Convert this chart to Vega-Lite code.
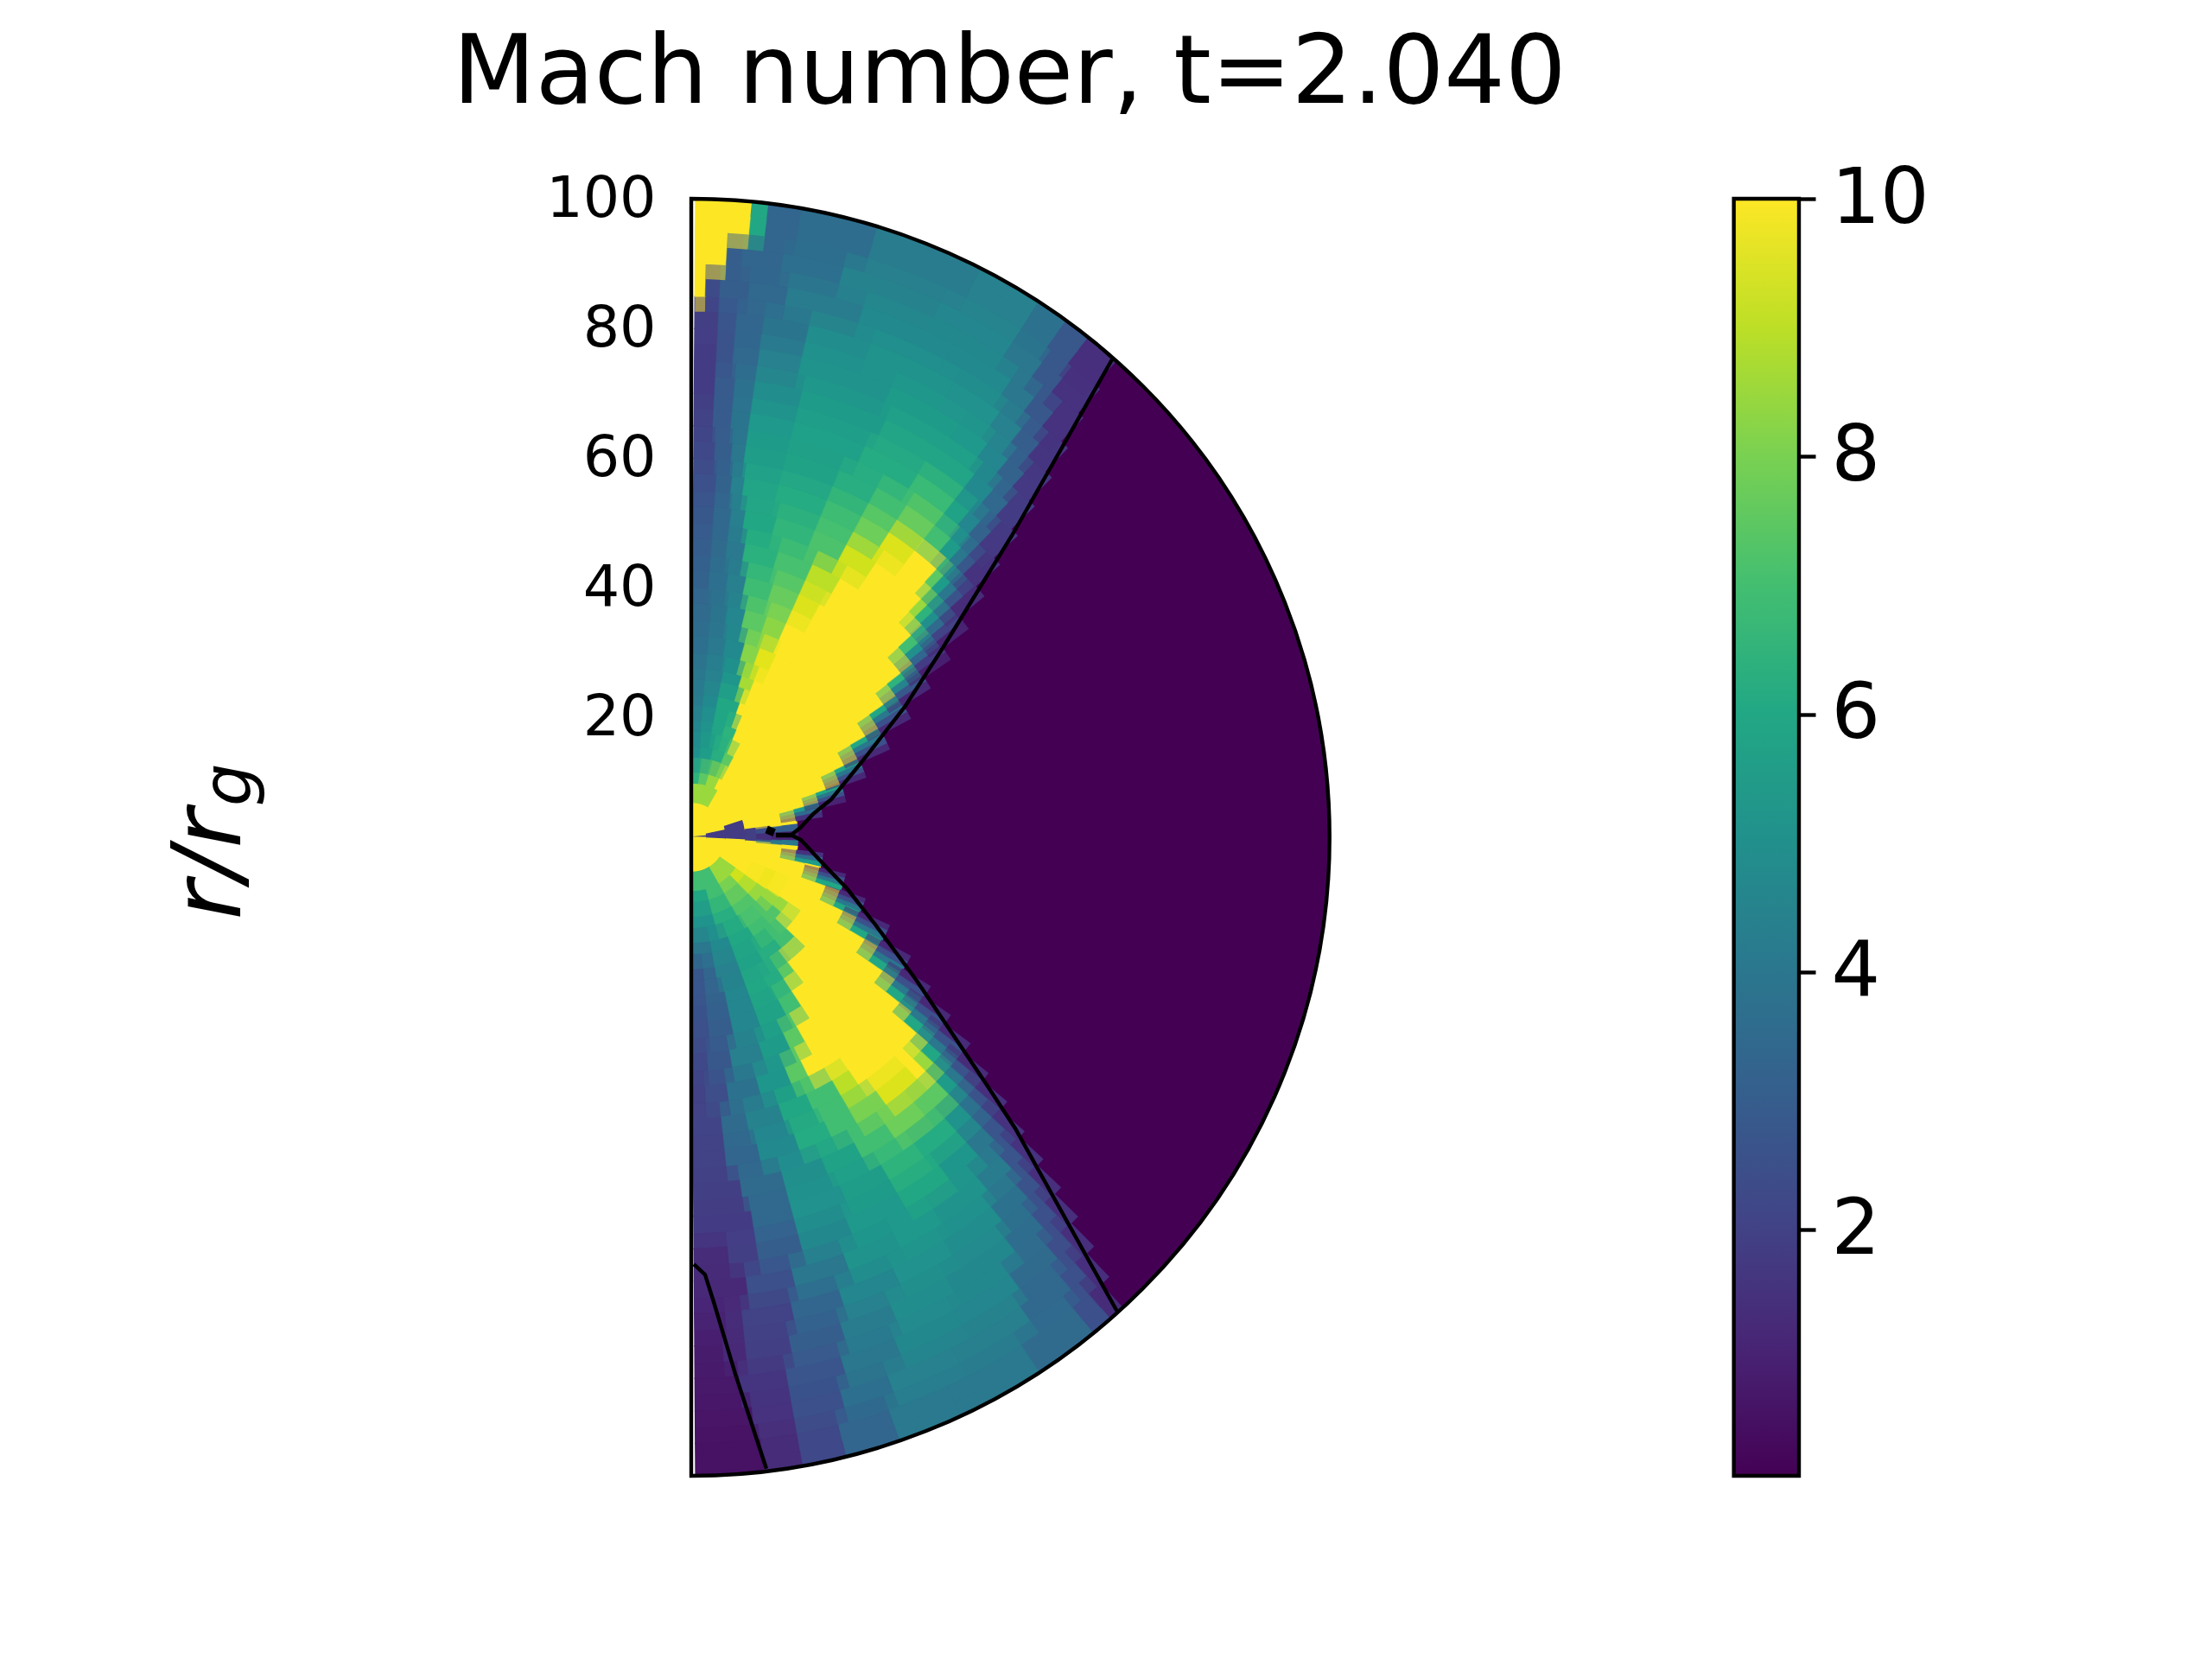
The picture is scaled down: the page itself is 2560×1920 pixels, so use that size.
{"$schema":"https://vega.github.io/schema/vega-lite/v6.json","autosize":"none","background":"white","padding":{"left":800,"top":230,"right":478,"bottom":212},"width":1282,"height":1478,
"title":{"text":"Mach number, t=2.040","font":"DejaVu Sans","fontSize":111,"fontWeight":"normal","color":"black","anchor":"start","frame":"group","dx":-276,"offset":-44,"baseline":"alphabetic"},
"config":{"view":{"stroke":null},"axis":{"grid":false}},
"datasets":{"cells":[
{"t":0.4,"u":85,"r":1.6,"s":4,"m":10},{"t":85,"u":91,"r":1.6,"s":4,"m":1.8},{"t":91,"u":179.6,"r":1.6,"s":4,"m":10},
{"t":0.4,"u":78,"r":4,"s":7,"m":10},{"t":78,"u":93,"r":4,"s":7,"m":1.8},{"t":93,"u":179.6,"r":4,"s":7,"m":10},
{"t":0.4,"u":30,"r":7,"s":10,"m":8.5},{"t":30,"u":72,"r":7,"s":10,"m":10},{"t":72,"u":93,"r":7,"s":10,"m":1.8},{"t":93,"u":125,"r":7,"s":10,"m":10},{"t":125,"u":150,"r":7,"s":10,"m":8.5},{"t":150,"u":179.6,"r":7,"s":10,"m":7},
{"t":0.4,"u":8,"r":10,"s":14,"m":6.5},{"t":8,"u":16,"r":10,"s":14,"m":7.5},{"t":16,"u":26,"r":10,"s":14,"m":8.5},{"t":26,"u":82,"r":10,"s":14,"m":10},{"t":82,"u":94,"r":10,"s":14,"m":1.9},{"t":94,"u":125,"r":10,"s":14,"m":10},{"t":125,"u":135,"r":10,"s":14,"m":9.3},{"t":135,"u":150,"r":10,"s":14,"m":8},{"t":150,"u":165,"r":10,"s":14,"m":7},{"t":165,"u":179.6,"r":10,"s":14,"m":6},
{"t":0.4,"u":6,"r":14,"s":18,"m":5},{"t":6,"u":14,"r":14,"s":18,"m":5.6},{"t":14,"u":22,"r":14,"s":18,"m":6.3},{"t":22,"u":28,"r":14,"s":18,"m":7.5},{"t":28,"u":83,"r":14,"s":18,"m":10},{"t":83,"u":87,"r":14,"s":18,"m":3},{"t":87,"u":92,"r":14,"s":18,"m":1},{"t":92,"u":95,"r":14,"s":18,"m":4},{"t":95,"u":112,"r":14,"s":18,"m":10},{"t":112,"u":125,"r":14,"s":18,"m":9.8},{"t":125,"u":135,"r":14,"s":18,"m":8.5},{"t":135,"u":150,"r":14,"s":18,"m":7.3},{"t":150,"u":165,"r":14,"s":18,"m":6.3},{"t":165,"u":179.6,"r":14,"s":18,"m":5.2},
{"t":0.4,"u":5,"r":18,"s":22,"m":4.6},{"t":5,"u":11,"r":18,"s":22,"m":5.2},{"t":11,"u":17,"r":18,"s":22,"m":5.9},{"t":17,"u":23,"r":18,"s":22,"m":6.5},{"t":23,"u":75,"r":18,"s":22,"m":10},{"t":75,"u":77,"r":18,"s":22,"m":5.5},{"t":77,"u":79,"r":18,"s":22,"m":3.5},{"t":79,"u":81,"r":18,"s":22,"m":1.5},{"t":97,"u":99,"r":18,"s":22,"m":1.5},{"t":99,"u":101,"r":18,"s":22,"m":3.5},{"t":101,"u":103,"r":18,"s":22,"m":5.5},{"t":103,"u":124,"r":18,"s":22,"m":10},{"t":124,"u":130,"r":18,"s":22,"m":8.5},{"t":130,"u":138,"r":18,"s":22,"m":7.3},{"t":138,"u":148,"r":18,"s":22,"m":7},{"t":148,"u":160,"r":18,"s":22,"m":6},{"t":160,"u":170,"r":18,"s":22,"m":4.8},{"t":170,"u":179.6,"r":18,"s":22,"m":4},
{"t":0.4,"u":5,"r":22,"s":26,"m":4.2},{"t":5,"u":11,"r":22,"s":26,"m":4.8},{"t":11,"u":20,"r":22,"s":26,"m":6},{"t":20,"u":70.6,"r":22,"s":26,"m":10},{"t":70.6,"u":72,"r":22,"s":26,"m":6},{"t":72,"u":73.5,"r":22,"s":26,"m":4},{"t":73.5,"u":75,"r":22,"s":26,"m":2.5},{"t":75,"u":77,"r":22,"s":26,"m":1},{"t":103.5,"u":105,"r":22,"s":26,"m":1.2},{"t":105,"u":106.5,"r":22,"s":26,"m":2.5},{"t":106.5,"u":108,"r":22,"s":26,"m":4},{"t":108,"u":110,"r":22,"s":26,"m":6},{"t":110,"u":134,"r":22,"s":26,"m":10},{"t":134,"u":141,"r":22,"s":26,"m":7},{"t":141,"u":150,"r":22,"s":26,"m":6.3},{"t":150,"u":160,"r":22,"s":26,"m":5.8},{"t":160,"u":170,"r":22,"s":26,"m":4.4},{"t":170,"u":175,"r":22,"s":26,"m":3.3},{"t":175,"u":179.6,"r":22,"s":26,"m":2.8},
{"t":0.4,"u":5,"r":26,"s":30,"m":4},{"t":5,"u":11,"r":26,"s":30,"m":4.4},{"t":11,"u":17.5,"r":26,"s":30,"m":5.3},{"t":17.5,"u":22,"r":26,"s":30,"m":8.7},{"t":22,"u":65,"r":26,"s":30,"m":10},{"t":65,"u":66.5,"r":26,"s":30,"m":6},{"t":66.5,"u":68,"r":26,"s":30,"m":4},{"t":68,"u":69.5,"r":26,"s":30,"m":2.5},{"t":69.5,"u":71,"r":26,"s":30,"m":1.2},{"t":109.5,"u":111,"r":26,"s":30,"m":1.2},{"t":111,"u":112.5,"r":26,"s":30,"m":2.5},{"t":112.5,"u":114,"r":26,"s":30,"m":4},{"t":114,"u":116,"r":26,"s":30,"m":6},{"t":116,"u":142.5,"r":26,"s":30,"m":10},{"t":142.5,"u":147,"r":26,"s":30,"m":7.5},{"t":147,"u":153,"r":26,"s":30,"m":6.2},{"t":153,"u":160,"r":26,"s":30,"m":6},{"t":160,"u":168,"r":26,"s":30,"m":4.6},{"t":168,"u":175,"r":26,"s":30,"m":3.2},{"t":175,"u":179.6,"r":26,"s":30,"m":2.7},
{"t":0.4,"u":5,"r":30,"s":35,"m":3.7},{"t":5,"u":10,"r":30,"s":35,"m":4.1},{"t":10,"u":15.5,"r":30,"s":35,"m":4.8},{"t":15.5,"u":20,"r":30,"s":35,"m":8.2},{"t":20,"u":25,"r":30,"s":35,"m":9.6},{"t":25,"u":60,"r":30,"s":35,"m":10},{"t":60,"u":61.5,"r":30,"s":35,"m":6},{"t":61.5,"u":63,"r":30,"s":35,"m":4},{"t":63,"u":64.5,"r":30,"s":35,"m":2.5},{"t":64.5,"u":66,"r":30,"s":35,"m":1.2},{"t":114,"u":115.5,"r":30,"s":35,"m":1.2},{"t":115.5,"u":117,"r":30,"s":35,"m":2.5},{"t":117,"u":118.5,"r":30,"s":35,"m":4},{"t":118.5,"u":120.5,"r":30,"s":35,"m":6},{"t":120.5,"u":147,"r":30,"s":35,"m":10},{"t":147,"u":152,"r":30,"s":35,"m":7},{"t":152,"u":160,"r":30,"s":35,"m":5.8},{"t":160,"u":168,"r":30,"s":35,"m":4.6},{"t":168,"u":175,"r":30,"s":35,"m":3},{"t":175,"u":179.6,"r":30,"s":35,"m":2.5},
{"t":0.4,"u":5,"r":35,"s":40,"m":3.5},{"t":5,"u":9,"r":35,"s":40,"m":3.9},{"t":9,"u":13.5,"r":35,"s":40,"m":4.6},{"t":13.5,"u":19,"r":35,"s":40,"m":7.5},{"t":19,"u":24,"r":35,"s":40,"m":8.3},{"t":24,"u":28,"r":35,"s":40,"m":10},{"t":28,"u":55.5,"r":35,"s":40,"m":10},{"t":55.5,"u":57,"r":35,"s":40,"m":6},{"t":57,"u":58.5,"r":35,"s":40,"m":4},{"t":58.5,"u":60,"r":35,"s":40,"m":2.5},{"t":60,"u":61.5,"r":35,"s":40,"m":1.2},{"t":118.5,"u":120,"r":35,"s":40,"m":1.2},{"t":120,"u":121.5,"r":35,"s":40,"m":2.5},{"t":121.5,"u":123,"r":35,"s":40,"m":4},{"t":123,"u":125,"r":35,"s":40,"m":6},{"t":125,"u":151,"r":35,"s":40,"m":10},{"t":151,"u":155,"r":35,"s":40,"m":7.5},{"t":155,"u":162,"r":35,"s":40,"m":5.5},{"t":162,"u":170,"r":35,"s":40,"m":4.3},{"t":170,"u":176,"r":35,"s":40,"m":2.8},{"t":176,"u":179.6,"r":35,"s":40,"m":2.2},
{"t":0.4,"u":4,"r":40,"s":45,"m":3.2},{"t":4,"u":8,"r":40,"s":45,"m":3.7},{"t":8,"u":12,"r":40,"s":45,"m":4.3},{"t":12,"u":18,"r":40,"s":45,"m":6.9},{"t":18,"u":24,"r":40,"s":45,"m":7.7},{"t":24,"u":29,"r":40,"s":45,"m":9.5},{"t":29,"u":52,"r":40,"s":45,"m":10},{"t":52,"u":53.5,"r":40,"s":45,"m":6.5},{"t":53.5,"u":55,"r":40,"s":45,"m":4.5},{"t":55,"u":56.5,"r":40,"s":45,"m":2.8},{"t":56.5,"u":58,"r":40,"s":45,"m":1.2},{"t":122,"u":123.5,"r":40,"s":45,"m":1.2},{"t":123.5,"u":125,"r":40,"s":45,"m":2.5},{"t":125,"u":126.5,"r":40,"s":45,"m":4},{"t":126.5,"u":128.5,"r":40,"s":45,"m":6},{"t":128.5,"u":154,"r":40,"s":45,"m":10},{"t":154,"u":158,"r":40,"s":45,"m":7.5},{"t":158,"u":165,"r":40,"s":45,"m":5.3},{"t":165,"u":172,"r":40,"s":45,"m":3.8},{"t":172,"u":177,"r":40,"s":45,"m":2.4},{"t":177,"u":179.6,"r":40,"s":45,"m":2},
{"t":0.4,"u":4,"r":45,"s":50,"m":3},{"t":4,"u":7,"r":45,"s":50,"m":3.5},{"t":7,"u":10.5,"r":45,"s":50,"m":4.1},{"t":10.5,"u":17,"r":45,"s":50,"m":6.4},{"t":17,"u":24,"r":45,"s":50,"m":7.1},{"t":24,"u":30,"r":45,"s":50,"m":9},{"t":30,"u":33,"r":45,"s":50,"m":10},{"t":33,"u":47.5,"r":45,"s":50,"m":10},{"t":47.5,"u":49.5,"r":45,"s":50,"m":7},{"t":49.5,"u":51,"r":45,"s":50,"m":5},{"t":51,"u":52.5,"r":45,"s":50,"m":3.3},{"t":52.5,"u":54,"r":45,"s":50,"m":1.8},{"t":54,"u":55.5,"r":45,"s":50,"m":0.9},{"t":124.5,"u":126,"r":45,"s":50,"m":1.2},{"t":126,"u":127.5,"r":45,"s":50,"m":2.5},{"t":127.5,"u":129,"r":45,"s":50,"m":4},{"t":129,"u":131,"r":45,"s":50,"m":6},{"t":131,"u":146,"r":45,"s":50,"m":10},{"t":146,"u":150,"r":45,"s":50,"m":9},{"t":150,"u":156,"r":45,"s":50,"m":7},{"t":156,"u":162,"r":45,"s":50,"m":6},{"t":162,"u":169,"r":45,"s":50,"m":4.5},{"t":169,"u":174,"r":45,"s":50,"m":3.5},{"t":174,"u":179.6,"r":45,"s":50,"m":2.1},
{"t":0.4,"u":4,"r":50,"s":55,"m":2.8},{"t":4,"u":7,"r":50,"s":55,"m":3.4},{"t":7,"u":9.5,"r":50,"s":55,"m":4.3},{"t":9.5,"u":15,"r":50,"s":55,"m":6},{"t":15,"u":22,"r":50,"s":55,"m":6.6},{"t":22,"u":28,"r":50,"s":55,"m":7.2},{"t":28,"u":34,"r":50,"s":55,"m":9.3},{"t":34,"u":44,"r":50,"s":55,"m":10},{"t":44,"u":45.5,"r":50,"s":55,"m":8.5},{"t":45.5,"u":47,"r":50,"s":55,"m":6.5},{"t":47,"u":48.5,"r":50,"s":55,"m":5},{"t":48.5,"u":50,"r":50,"s":55,"m":3.5},{"t":50,"u":51.5,"r":50,"s":55,"m":2},{"t":51.5,"u":53,"r":50,"s":55,"m":1},{"t":126.5,"u":128,"r":50,"s":55,"m":1.3},{"t":128,"u":129.5,"r":50,"s":55,"m":2.6},{"t":129.5,"u":131,"r":50,"s":55,"m":4},{"t":131,"u":133,"r":50,"s":55,"m":6},{"t":133,"u":135,"r":50,"s":55,"m":8.5},{"t":135,"u":137,"r":50,"s":55,"m":10},{"t":137,"u":144,"r":50,"s":55,"m":9.5},{"t":144,"u":150,"r":50,"s":55,"m":8},{"t":150,"u":155,"r":50,"s":55,"m":7},{"t":155,"u":161,"r":50,"s":55,"m":6.2},{"t":161,"u":168,"r":50,"s":55,"m":4.8},{"t":168,"u":174,"r":50,"s":55,"m":3.3},{"t":174,"u":179.6,"r":50,"s":55,"m":2},
{"t":0.4,"u":4,"r":55,"s":60,"m":2.5},{"t":4,"u":6.5,"r":55,"s":60,"m":3.2},{"t":6.5,"u":8.5,"r":55,"s":60,"m":4.4},{"t":8.5,"u":14,"r":55,"s":60,"m":5.9},{"t":14,"u":22,"r":55,"s":60,"m":6.2},{"t":22,"u":28,"r":55,"s":60,"m":6.9},{"t":28,"u":33,"r":55,"s":60,"m":7.8},{"t":33,"u":38,"r":55,"s":60,"m":9.5},{"t":38,"u":42.5,"r":55,"s":60,"m":10},{"t":42.5,"u":44,"r":55,"s":60,"m":7.5},{"t":44,"u":45.5,"r":55,"s":60,"m":5.5},{"t":45.5,"u":47,"r":55,"s":60,"m":4},{"t":47,"u":48.5,"r":55,"s":60,"m":2.6},{"t":48.5,"u":50.5,"r":55,"s":60,"m":1.3},{"t":128.5,"u":130,"r":55,"s":60,"m":1.3},{"t":130,"u":131.5,"r":55,"s":60,"m":2.6},{"t":131.5,"u":133,"r":55,"s":60,"m":4},{"t":133,"u":135,"r":55,"s":60,"m":5.5},{"t":135,"u":140,"r":55,"s":60,"m":7.5},{"t":140,"u":146,"r":55,"s":60,"m":7.8},{"t":146,"u":152,"r":55,"s":60,"m":7},{"t":152,"u":158,"r":55,"s":60,"m":5.8},{"t":158,"u":165,"r":55,"s":60,"m":5},{"t":165,"u":172,"r":55,"s":60,"m":3.5},{"t":172,"u":179.6,"r":55,"s":60,"m":1.9},
{"t":0.4,"u":3.5,"r":60,"s":65,"m":2.2},{"t":3.5,"u":6,"r":60,"s":65,"m":3},{"t":6,"u":8,"r":60,"s":65,"m":4},{"t":8,"u":14,"r":60,"s":65,"m":5.6},{"t":14,"u":22,"r":60,"s":65,"m":5.8},{"t":22,"u":28,"r":60,"s":65,"m":6.3},{"t":28,"u":33,"r":60,"s":65,"m":7},{"t":33,"u":38,"r":60,"s":65,"m":7.7},{"t":38,"u":41,"r":60,"s":65,"m":7},{"t":41,"u":43,"r":60,"s":65,"m":5.5},{"t":43,"u":44.5,"r":60,"s":65,"m":4},{"t":44.5,"u":46,"r":60,"s":65,"m":2.8},{"t":46,"u":48.5,"r":60,"s":65,"m":1.5},{"t":130,"u":131.5,"r":60,"s":65,"m":1.4},{"t":131.5,"u":133,"r":60,"s":65,"m":2.6},{"t":133,"u":135,"r":60,"s":65,"m":3.8},{"t":135,"u":138,"r":60,"s":65,"m":5.2},{"t":138,"u":144,"r":60,"s":65,"m":6.2},{"t":144,"u":150,"r":60,"s":65,"m":6.5},{"t":150,"u":157,"r":60,"s":65,"m":5.6},{"t":157,"u":165,"r":60,"s":65,"m":5.1},{"t":165,"u":171,"r":60,"s":65,"m":3.4},{"t":171,"u":179.6,"r":60,"s":65,"m":1.8},
{"t":0.4,"u":3,"r":65,"s":70,"m":2},{"t":3,"u":5.5,"r":65,"s":70,"m":2.9},{"t":5.5,"u":8,"r":65,"s":70,"m":3.9},{"t":8,"u":14,"r":65,"s":70,"m":5.4},{"t":14,"u":24,"r":65,"s":70,"m":5.7},{"t":24,"u":32,"r":65,"s":70,"m":6.2},{"t":32,"u":38,"r":65,"s":70,"m":6.8},{"t":38,"u":40.5,"r":65,"s":70,"m":5.8},{"t":40.5,"u":42.5,"r":65,"s":70,"m":4.6},{"t":42.5,"u":44.5,"r":65,"s":70,"m":3.2},{"t":44.5,"u":47.2,"r":65,"s":70,"m":1.7},{"t":131.5,"u":133,"r":65,"s":70,"m":1.5},{"t":133,"u":135,"r":65,"s":70,"m":2.7},{"t":135,"u":138,"r":65,"s":70,"m":4},{"t":138,"u":143,"r":65,"s":70,"m":5.3},{"t":143,"u":150,"r":65,"s":70,"m":6},{"t":150,"u":158,"r":65,"s":70,"m":5.4},{"t":158,"u":165,"r":65,"s":70,"m":4.7},{"t":165,"u":171,"r":65,"s":70,"m":3},{"t":171,"u":175,"r":65,"s":70,"m":1.9},{"t":175,"u":179.6,"r":65,"s":70,"m":1.3},
{"t":0.4,"u":3,"r":70,"s":75,"m":1.8},{"t":3,"u":5.5,"r":70,"s":75,"m":2.9},{"t":5.5,"u":8,"r":70,"s":75,"m":3.8},{"t":8,"u":14,"r":70,"s":75,"m":4.9},{"t":14,"u":25,"r":70,"s":75,"m":5.5},{"t":25,"u":38,"r":70,"s":75,"m":5.9},{"t":38,"u":41,"r":70,"s":75,"m":4.8},{"t":41,"u":43.5,"r":70,"s":75,"m":3.4},{"t":43.5,"u":46,"r":70,"s":75,"m":1.8},{"t":132.5,"u":134,"r":70,"s":75,"m":1.5},{"t":134,"u":136,"r":70,"s":75,"m":2.7},{"t":136,"u":140,"r":70,"s":75,"m":4.2},{"t":140,"u":147,"r":70,"s":75,"m":5.2},{"t":147,"u":153,"r":70,"s":75,"m":5.4},{"t":153,"u":160,"r":70,"s":75,"m":5.2},{"t":160,"u":167,"r":70,"s":75,"m":4},{"t":167,"u":173,"r":70,"s":75,"m":2.5},{"t":173,"u":179.6,"r":70,"s":75,"m":1.2},
{"t":0.4,"u":3,"r":75,"s":80,"m":1.8},{"t":3,"u":5,"r":75,"s":80,"m":2.6},{"t":5,"u":8,"r":75,"s":80,"m":3.4},{"t":8,"u":13,"r":75,"s":80,"m":4.4},{"t":13,"u":24,"r":75,"s":80,"m":5.2},{"t":24,"u":33,"r":75,"s":80,"m":5.5},{"t":33,"u":37,"r":75,"s":80,"m":5.4},{"t":37,"u":40,"r":75,"s":80,"m":4.6},{"t":40,"u":42.5,"r":75,"s":80,"m":3.2},{"t":42.5,"u":45,"r":75,"s":80,"m":1.7},{"t":133.5,"u":135,"r":75,"s":80,"m":1.4},{"t":135,"u":137,"r":75,"s":80,"m":2.6},{"t":137,"u":141,"r":75,"s":80,"m":3.8},{"t":141,"u":148,"r":75,"s":80,"m":4.9},{"t":148,"u":155,"r":75,"s":80,"m":5.1},{"t":155,"u":162,"r":75,"s":80,"m":4.6},{"t":162,"u":168,"r":75,"s":80,"m":3.3},{"t":168,"u":174,"r":75,"s":80,"m":2},{"t":174,"u":176,"r":75,"s":80,"m":1.3},{"t":176,"u":179.6,"r":75,"s":80,"m":1},
{"t":0.4,"u":3,"r":80,"s":85,"m":1.9},{"t":3,"u":5,"r":80,"s":85,"m":2.7},{"t":5,"u":8,"r":80,"s":85,"m":3.3},{"t":8,"u":13,"r":80,"s":85,"m":3.9},{"t":13,"u":20,"r":80,"s":85,"m":4.9},{"t":20,"u":30,"r":80,"s":85,"m":5.2},{"t":30,"u":36,"r":80,"s":85,"m":5.1},{"t":36,"u":39,"r":80,"s":85,"m":4.4},{"t":39,"u":41.5,"r":80,"s":85,"m":3},{"t":41.5,"u":44,"r":80,"s":85,"m":1.6},{"t":134.5,"u":136,"r":80,"s":85,"m":1.4},{"t":136,"u":138,"r":80,"s":85,"m":2.5},{"t":138,"u":142,"r":80,"s":85,"m":3.6},{"t":142,"u":150,"r":80,"s":85,"m":4.7},{"t":150,"u":157,"r":80,"s":85,"m":4.9},{"t":157,"u":163,"r":80,"s":85,"m":4.2},{"t":163,"u":169,"r":80,"s":85,"m":3},{"t":169,"u":174,"r":80,"s":85,"m":1.9},{"t":174,"u":176.5,"r":80,"s":85,"m":1.2},{"t":176.5,"u":179.6,"r":80,"s":85,"m":0.8},
{"t":0.4,"u":1.5,"r":85,"s":90,"m":10},{"t":1.5,"u":3,"r":85,"s":90,"m":2.3},{"t":3,"u":6,"r":85,"s":90,"m":3},{"t":6,"u":10,"r":85,"s":90,"m":3.4},{"t":10,"u":18,"r":85,"s":90,"m":4.2},{"t":18,"u":28,"r":85,"s":90,"m":4.8},{"t":28,"u":35,"r":85,"s":90,"m":4.8},{"t":35,"u":38,"r":85,"s":90,"m":4},{"t":38,"u":40.5,"r":85,"s":90,"m":2.8},{"t":40.5,"u":43,"r":85,"s":90,"m":1.5},{"t":135.5,"u":137,"r":85,"s":90,"m":1.4},{"t":137,"u":139,"r":85,"s":90,"m":2.4},{"t":139,"u":144,"r":85,"s":90,"m":3.5},{"t":144,"u":151,"r":85,"s":90,"m":4.6},{"t":151,"u":158,"r":85,"s":90,"m":4.7},{"t":158,"u":164,"r":85,"s":90,"m":4},{"t":164,"u":170,"r":85,"s":90,"m":2.7},{"t":170,"u":175,"r":85,"s":90,"m":1.6},{"t":175,"u":179.6,"r":85,"s":90,"m":0.7},
{"t":0.4,"u":3.5,"r":90,"s":95,"m":10},{"t":3.5,"u":5,"r":90,"s":95,"m":3},{"t":5,"u":9,"r":90,"s":95,"m":3.3},{"t":9,"u":15,"r":90,"s":95,"m":3.7},{"t":15,"u":25,"r":90,"s":95,"m":4.5},{"t":25,"u":33,"r":90,"s":95,"m":4.6},{"t":33,"u":36.5,"r":90,"s":95,"m":4},{"t":36.5,"u":39,"r":90,"s":95,"m":2.8},{"t":39,"u":42.3,"r":90,"s":95,"m":1.5},{"t":136.5,"u":138,"r":90,"s":95,"m":1.4},{"t":138,"u":140,"r":90,"s":95,"m":2.5},{"t":140,"u":145,"r":90,"s":95,"m":3.4},{"t":145,"u":153,"r":90,"s":95,"m":4.3},{"t":153,"u":160,"r":90,"s":95,"m":4.4},{"t":160,"u":165,"r":90,"s":95,"m":3.7},{"t":165,"u":170,"r":90,"s":95,"m":2.5},{"t":170,"u":174,"r":90,"s":95,"m":1.5},{"t":174,"u":179.6,"r":90,"s":95,"m":0.6},
{"t":0.4,"u":5.5,"r":95,"s":100,"m":10},{"t":5.5,"u":7,"r":95,"s":100,"m":6},{"t":7,"u":10,"r":95,"s":100,"m":3.3},{"t":10,"u":17,"r":95,"s":100,"m":3.6},{"t":17,"u":27,"r":95,"s":100,"m":4.2},{"t":27,"u":33,"r":95,"s":100,"m":4.4},{"t":33,"u":36,"r":95,"s":100,"m":3.8},{"t":36,"u":38.5,"r":95,"s":100,"m":2.8},{"t":38.5,"u":41.7,"r":95,"s":100,"m":1.4},{"t":137.5,"u":139,"r":95,"s":100,"m":1.3},{"t":139,"u":141,"r":95,"s":100,"m":2.5},{"t":141,"u":147,"r":95,"s":100,"m":3.5},{"t":147,"u":155,"r":95,"s":100,"m":4.1},{"t":155,"u":161,"r":95,"s":100,"m":4.1},{"t":161,"u":166,"r":95,"s":100,"m":3.3},{"t":166,"u":170,"r":95,"s":100,"m":2.2},{"t":170,"u":173.5,"r":95,"s":100,"m":1.3},{"t":173.5,"u":179.6,"r":95,"s":100,"m":0.5}
],
"contours":[
{"l":"a","x":13.05,"y":2.0},{"l":"a","x":15.45,"y":2.0},{"l":"a","x":16.8,"y":3.06},{"l":"a","x":18.8,"y":5.2},{"l":"a","x":21.6,"y":7.46},{"l":"a","x":26.8,"y":13.85},{"l":"a","x":33.0,"y":21.84},{"l":"a","x":38.75,"y":30.76},{"l":"a","x":43.9,"y":39.15},{"l":"a","x":49.4,"y":48.07},{"l":"a","x":64.85,"y":75.23},
{"l":"b","x":13.05,"y":1.87},{"l":"b","x":15.58,"y":1.87},{"l":"b","x":16.91,"y":1.2},{"l":"b","x":20.37,"y":-2.53},{"l":"b","x":23.97,"y":-6.26},{"l":"b","x":28.36,"y":-11.85},{"l":"b","x":33.29,"y":-18.5},{"l":"b","x":34.75,"y":-20.5},{"l":"b","x":45.67,"y":-36.75},{"l":"b","x":49.93,"y":-43.27},{"l":"b","x":65.65,"y":-71.5},
{"l":"c","x":0.4,"y":-64.2},{"l":"c","x":2.13,"y":-65.8},{"l":"c","x":3.46,"y":-70.0},{"l":"c","x":6.79,"y":-81.1},{"l":"c","x":11.58,"y":-95.7}
]},
"resolve":{"scale":{"y":"independent"},"axis":{"y":"independent"}},
"layer":[
{"layer":[
{"data":{"values":[{"t":0.4,"u":179.6,"r":1.6,"s":100,"m":0.09}]},"mark":{"type":"arc","strokeWidth":1.5},
"encoding":{"x":{"datum":0,"type":"quantitative","scale":{"domain":[0,170.7],"range":[0,1282],"nice":false,"zero":false},"axis":null},"y":{"datum":1.6,"type":"quantitative","scale":{"domain":[-96.8,100],"range":[1478,0],"nice":false,"zero":false},"axis":{"orient":"left","values":[20,40,60,80,100],"domain":false,"ticks":false,"labelFont":"DejaVu Sans","labelFontSize":66.7,"labelColor":"black","labelPadding":41,"title":"r/r","titleFont":"DejaVu Sans","titleFontStyle":"italic","titleFontWeight":"normal","titleFontSize":111,"titleColor":"black","titleAngle":270,"titleX":-523,"titleY":770,"titleAlign":"center","titleBaseline":"alphabetic"}},
"theta":{"field":"t","type":"quantitative","scale":{"domain":[0,360],"range":[0,6.283185307]}},"theta2":{"field":"u"},"radius":{"field":"r","type":"quantitative","scale":{"type":"linear","zero":false,"nice":false,"domain":[1.6,100],"range":[0,739]}},"radius2":{"field":"s"},
"color":{"field":"m","type":"quantitative","scale":{"domain":[0.09,10],"scheme":"viridis","clamp":true},"legend":null}}},
{"data":{"name":"cells"},"mark":{"type":"arc","strokeWidth":1.5},
"encoding":{"x":{"datum":0,"type":"quantitative"},"y":{"datum":1.6,"type":"quantitative"},
"theta":{"field":"t","type":"quantitative"},"theta2":{"field":"u"},"radius":{"field":"r","type":"quantitative"},"radius2":{"field":"s"},
"color":{"field":"m","type":"quantitative"},"stroke":{"field":"m","type":"quantitative","scale":{"domain":[0.09,10],"scheme":"viridis","clamp":true},"legend":null}}},
{"data":{"name":"cells"},"transform":[{"filter":"datum.r>=14"}],"mark":{"type":"arc","opacity":0.5,"radiusOffset":-18,"radius2Offset":-18},
"encoding":{"x":{"datum":0,"type":"quantitative"},"y":{"datum":1.6,"type":"quantitative"},
"theta":{"field":"t","type":"quantitative"},"theta2":{"field":"u"},"radius":{"field":"r","type":"quantitative"},"radius2":{"field":"s"},
"color":{"field":"m","type":"quantitative"}}},
{"data":{"values":[{"t":0,"u":180,"r":1.6,"s":100}]},"mark":{"type":"arc","fillOpacity":0,"stroke":"black","strokeWidth":4.4},
"encoding":{"x":{"datum":0,"type":"quantitative"},"y":{"datum":1.6,"type":"quantitative"},"theta":{"field":"t","type":"quantitative"},"theta2":{"field":"u"},"radius":{"field":"r","type":"quantitative"},"radius2":{"field":"s"}}},
{"data":{"name":"contours"},"mark":{"type":"line","color":"black","strokeWidth":4.4},
"encoding":{"x":{"field":"x","type":"quantitative"},"y":{"field":"y","type":"quantitative"},"detail":{"field":"l"}}},
{"data":{"values":[{"x":11.6,"y":2.8},{"x":12.8,"y":2.3}]},"mark":{"type":"line","color":"black","strokeWidth":9},
"encoding":{"x":{"field":"x","type":"quantitative"},"y":{"field":"y","type":"quantitative"}}},
{"data":{"values":[{"x":-67.9,"y":9.7,"g":"g"}]},"mark":{"type":"text","font":"DejaVu Sans","fontStyle":"italic","fontSize":78,"angle":270,"align":"center","baseline":"alphabetic","color":"black"},
"encoding":{"x":{"field":"x","type":"quantitative"},"y":{"field":"y","type":"quantitative"},"text":{"field":"g"}}},
{"data":{"values":[{"x0":160.66,"x1":170.7,"c0":-96.8,"c1":100}]},"mark":{"type":"rect","stroke":"black","strokeWidth":4.4,"fill":{"x1":0,"y1":1,"x2":0,"y2":0,"gradient":"linear","stops":[{"offset":0,"color":"#440154"},{"offset":0.1,"color":"#482475"},{"offset":0.2,"color":"#414487"},{"offset":0.3,"color":"#355f8d"},{"offset":0.4,"color":"#2a788e"},{"offset":0.5,"color":"#21918c"},{"offset":0.6,"color":"#22a884"},{"offset":0.7,"color":"#44bf70"},{"offset":0.8,"color":"#7ad151"},{"offset":0.9,"color":"#bddf26"},{"offset":1,"color":"#fde725"}]}},
"encoding":{"x":{"field":"x0","type":"quantitative"},"x2":{"field":"x1"},"y":{"field":"c0","type":"quantitative"},"y2":{"field":"c1"}}}
]},
{"data":{"values":[{"c":2},{"c":4},{"c":6},{"c":8},{"c":10}]},"mark":{"type":"rule","opacity":0},
"encoding":{"y":{"field":"c","type":"quantitative","scale":{"domain":[0.09,10],"range":[1478,0],"nice":false,"zero":false},"axis":{"orient":"right","values":[2,4,6,8,10],"format":"d","domain":false,"title":null,"tickSize":19,"tickWidth":4.4,"tickColor":"black","labelFont":"DejaVu Sans","labelFontSize":89,"labelColor":"black","labelPadding":18}}}}
]}
